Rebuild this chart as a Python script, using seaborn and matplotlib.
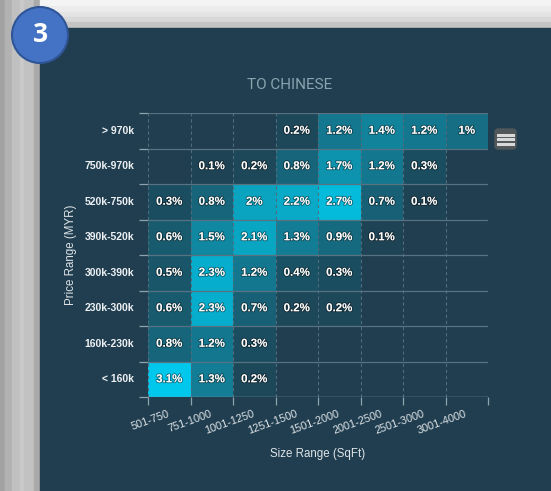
import matplotlib

matplotlib.use("Agg")
import matplotlib.pyplot as plt
import matplotlib.patheffects as pe
import numpy as np
import pandas as pd
import seaborn as sns
from matplotlib.colors import LinearSegmentedColormap
from matplotlib.patches import Ellipse, FancyBboxPatch, Rectangle

price_ranges = [
    "> 970k", "750k-970k", "520k-750k", "390k-520k",
    "300k-390k", "230k-300k", "160k-230k", "< 160k",
]
size_ranges = [
    "501-750", "751-1000", "1001-1250", "1251-1500",
    "1501-2000", "2001-2500", "2501-3000", "3001-4000",
]
nan = np.nan
row_gt_970k = [nan, nan, nan, 0.2, 1.2, 1.4, 1.2, 1.0]
row_750_970k = [nan, 0.1, 0.2, 0.8, 1.7, 1.2, 0.3, nan]
row_520_750k = [0.3, 0.8, 2.0, 2.2, 2.7, 0.7, 0.1, nan]
row_390_520k = [0.6, 1.5, 2.1, 1.3, 0.9, 0.1, nan, nan]
row_300_390k = [0.5, 2.3, 1.2, 0.4, 0.3, nan, nan, nan]
row_230_300k = [0.6, 2.3, 0.7, 0.2, 0.2, nan, nan, nan]
row_160_230k = [0.8, 1.2, 0.3, nan, nan, nan, nan, nan]
row_lt_160k = [3.1, 1.3, 0.2, nan, nan, nan, nan, nan]

PANEL = "#203e50"
W, H = 551, 491
VMAX = 3.1

df = pd.DataFrame(
    [row_gt_970k, row_750_970k, row_520_750k, row_390_520k,
     row_300_390k, row_230_300k, row_160_230k, row_lt_160k],
    index=price_ranges, columns=size_ranges,
)
labels = df.map(lambda v: "" if pd.isna(v) else f"{v:g}%")

fig = plt.figure(figsize=(W / 100, H / 100), dpi=100, facecolor="#c4c4c4")

# screenshot frame: grey bands left and top, then dark panel
for x0, x1, c in [(0, 5, "#a2a2a2"), (5, 12, "#b2b2b2"), (12, 20, "#c0c0c0"),
                  (20, 24, "#cacaca"), (24, 34, "#c2c2c2"), (34, 40, "#aaaaaa")]:
    fig.patches.append(Rectangle((x0 / W, 0), (x1 - x0) / W, 1, transform=fig.transFigure,
                                 color=c, zorder=-3))
for y0, y1, c in [(0, 6, "#f4f4f4"), (6, 12, "#ececec"), (12, 17, "#e4e4e4"),
                  (17, 22, "#d8d8d8"), (22, 28, "#c4c4c4")]:
    fig.patches.append(Rectangle((40 / W, 1 - y1 / H), 1, (y1 - y0) / H,
                                 transform=fig.transFigure, color=c, zorder=-2))
fig.patches.append(Rectangle((40 / W, 0), 1, 1 - 28 / H, transform=fig.transFigure,
                             color=PANEL, zorder=-1))
fig.lines.append(plt.Line2D([40 / W, 1], [1 - 36 / H, 1 - 36 / H], transform=fig.transFigure,
                            color="#2a4a5c", lw=1, zorder=-1))

ax = fig.add_axes([148 / W, 1 - 397 / H, 340 / W, 284 / H])
ax.set_facecolor(PANEL)

# colour stops
cmap = LinearSegmentedColormap.from_list("teal", [
    (0.0, PANEL), (0.3 / VMAX, "#1b4d60"), (1.2 / VMAX, "#13788f"),
    (2.0 / VMAX, "#0aa3c0"), (1.0, "#00c8ec"),
])
sns.heatmap(
    df, ax=ax, cmap=cmap, vmin=0.0, vmax=VMAX, cbar=False,
    annot=labels.values, fmt="",
    annot_kws={"fontsize": 8.3, "fontweight": "bold", "color": "white",
               "family": "Liberation Sans",
               "path_effects": [pe.withStroke(linewidth=1.3, foreground="#00000070")]},
)

# grid: dashed verticals, solid horizontals
for x in range(len(size_ranges) + 1):
    ax.axvline(x, color="#4f6c7c", lw=0.8, dashes=(3, 2.5), zorder=3)
for y in range(len(price_ranges)):
    ax.axhline(y, color="#587282", lw=0.9, zorder=3)
ax.axhline(len(price_ranges), color="#8ea3ae", lw=1.0, zorder=4)

for s in ax.spines.values():
    s.set_visible(False)

ax.set_xticks(np.arange(len(size_ranges) + 1), minor=True)
ax.set_yticks(np.arange(len(price_ranges) + 1), minor=True)
ax.tick_params(which="minor", color="#8ea3ae", width=0.9)
ax.tick_params(axis="x", which="minor", length=6)
ax.tick_params(axis="y", which="minor", length=6.5)
ax.tick_params(which="major", length=0)
ax.tick_params(axis="y", pad=10)
ax.tick_params(axis="x", pad=12)

ax.set_xticklabels(size_ranges, rotation=20, ha="right", va="center",
                   rotation_mode="anchor", fontsize=7.8, color="#dfe4e7",
                   family="Liberation Sans")
ax.set_yticklabels(price_ranges, rotation=0, fontsize=7.5, fontweight="bold",
                   color="#eef1f3", family="Liberation Sans")

ax.set_xlabel("Size Range (SqFt)", fontsize=8.3, color="#dfe4e7", family="Liberation Sans")
ax.set_ylabel("Price Range (MYR)", fontsize=8.3, color="#dfe4e7", family="Liberation Sans")
ax.xaxis.set_label_coords(0.5, -0.18)
ax.yaxis.set_label_coords(-0.209, 0.5)

fig.text(290 / W, 1 - 85 / H, "TO CHINESE", ha="center", va="center",
         fontsize=11, color="#8aa3b0", family="Roboto")

# export menu button
fig.patches.append(FancyBboxPatch((495 / W, 1 - 149 / H), 21 / W, 20 / H,
                                  boxstyle="round,pad=0,rounding_size=0.006",
                                  transform=fig.transFigure, color="#50575a", zorder=5))
for yy in (134.5, 139, 143.5):
    fig.lines.append(plt.Line2D([498 / W, 513 / W], [1 - yy / H] * 2, transform=fig.transFigure,
                                color="#d8d8d8", lw=2.2, zorder=6))

# numbered badge
fig.patches.append(Ellipse((40 / W, 1 - 35 / H), 56 / W, 56 / H, transform=fig.transFigure,
                           facecolor="#4472c4", edgecolor="#2f5597", lw=1.5, zorder=7))
fig.text(40 / W, 1 - 35 / H, "3", ha="center", va="center", fontsize=19,
         fontweight="bold", color="white", family="Open Sans", zorder=8)

fig.savefig("out.png", dpi=100, facecolor=fig.get_facecolor())
